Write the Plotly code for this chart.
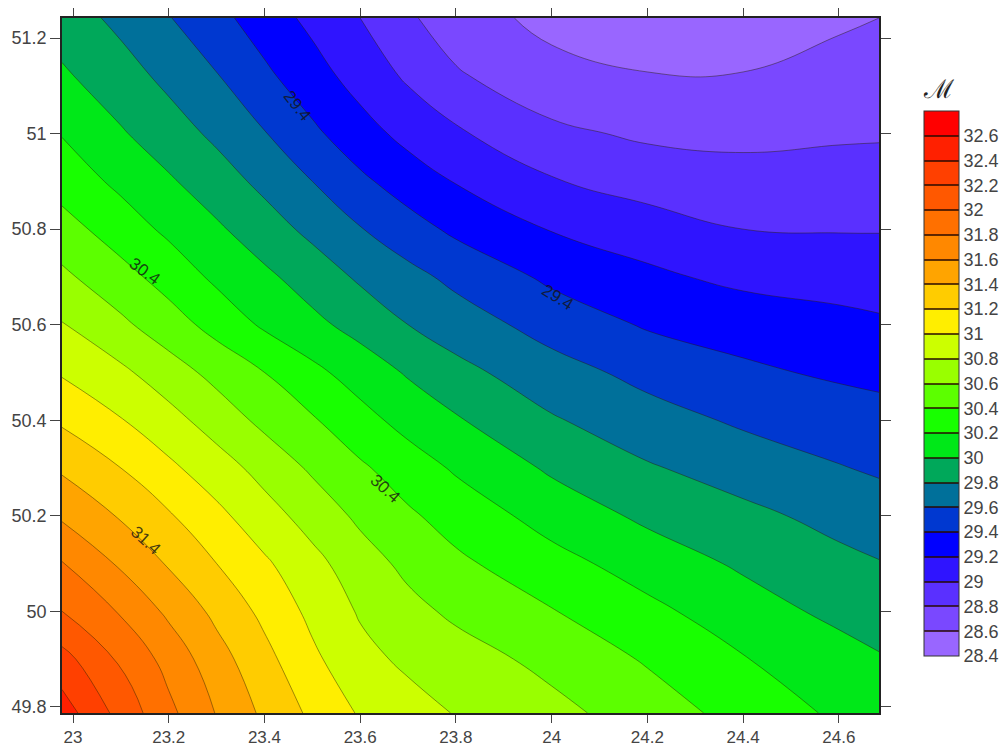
import plotly.graph_objects as go

x_nodes = [22.977, 23.1, 23.2, 23.3, 23.4, 23.5, 23.6, 23.7, 23.8, 24.0, 24.2, 24.4, 24.6, 24.684]
y_nodes = [49.787, 49.9, 50.0, 50.1, 50.2, 50.3, 50.4, 50.5, 50.6, 50.7, 50.8, 50.9, 51.0, 51.121, 51.242]

row_49_787 = [32.50, 32.13, 31.85, 31.59, 31.36, 31.16, 30.98, 30.88, 30.79, 30.66, 30.50, 30.33, 30.165, 30.10]
row_49_9 = [32.27, 31.97, 31.73, 31.48, 31.26, 31.04, 30.86, 30.76, 30.69, 30.54, 30.38, 30.21, 30.08, 30.02]
row_50_0 = [32.00, 31.78, 31.56, 31.35, 31.15, 30.95, 30.78, 30.66, 30.56, 30.41, 30.25, 30.09, 29.95, 29.89]
row_50_1 = [31.81, 31.57, 31.38, 31.20, 31.03, 30.86, 30.69, 30.55, 30.44, 30.27, 30.11, 29.97, 29.85, 29.81]
row_50_2 = [31.57, 31.38, 31.22, 31.05, 30.88, 30.72, 30.56, 30.43, 30.32, 30.12, 29.96, 29.85, 29.74, 29.69]
row_50_3 = [31.37, 31.20, 31.04, 30.89, 30.73, 30.57, 30.43, 30.30, 30.175, 29.97, 29.82, 29.71, 29.61, 29.575]
row_50_4 = [31.17, 31.01, 30.87, 30.71, 30.55, 30.42, 30.27, 30.13, 30.02, 29.82, 29.68, 29.57, 29.50, 29.47]
row_50_5 = [30.98, 30.84, 30.69, 30.54, 30.40, 30.25, 30.11, 29.98, 29.86, 29.68, 29.54, 29.435, 29.37, 29.35]
row_50_6 = [30.81, 30.64, 30.49, 30.33, 30.17, 30.05, 29.93, 29.80, 29.70, 29.52, 29.38, 29.32, 29.26, 29.23]
row_50_7 = [30.64, 30.47, 30.32, 30.16, 30.04, 29.91, 29.77, 29.66, 29.55, 29.36, 29.24, 29.15, 29.115, 29.105]
row_50_8 = [30.48, 30.30, 30.16, 30.03, 29.89, 29.75, 29.61, 29.48, 29.36, 29.19, 29.10, 29.00, 28.99, 28.99]
row_50_9 = [30.315, 30.155, 30.025, 29.89, 29.75, 29.60, 29.44, 29.305, 29.19, 29.016, 28.91, 28.876, 28.88, 28.884]
row_51_0 = [30.19, 30.02, 29.89, 29.76, 29.61, 29.44, 29.28, 29.14, 29.03, 28.84, 28.77, 28.75, 28.775, 28.78]
row_51_12 = [30.03, 29.88, 29.75, 29.61, 29.44, 29.28, 29.12, 28.97, 28.82, 28.68, 28.61, 28.61, 28.67, 28.69]
row_51_24 = [29.90, 29.75, 29.61, 29.46, 29.30, 29.15, 29.00, 28.825, 28.71, 28.53, 28.46, 28.46, 28.57, 28.60]

x_ticks = [23, 23.2, 23.4, 23.6, 23.8, 24, 24.2, 24.4, 24.6]
x_labels = ["23", "23.2", "23.4", "23.6", "23.8", "24", "24.2", "24.4", "24.6"]
y_ticks = [49.8, 50, 50.2, 50.4, 50.6, 50.8, 51, 51.2]
y_labels = ["49.8", "50", "50.2", "50.4", "50.6", "50.8", "51", "51.2"]

bar_ticks = [28.4, 28.6, 28.8, 29, 29.2, 29.4, 29.6, 29.8, 30, 30.2, 30.4, 30.6, 30.8, 31,
             31.2, 31.4, 31.6, 31.8, 32, 32.2, 32.4, 32.6]
bar_labels = ["28.4", "28.6", "28.8", "29", "29.2", "29.4", "29.6", "29.8", "30", "30.2", "30.4",
              "30.6", "30.8", "31", "31.2", "31.4", "31.6", "31.8", "32", "32.2", "32.4", "32.6"]
band_colors = ["#9966ff", "#7a48ff", "#5a30ff", "#2f14ff", "#0000ff", "#0038d0", "#00709a", "#00a85a",
               "#00e818", "#18ff00", "#5cff00", "#99ff00", "#ccff00", "#ffee00", "#ffcc00", "#ffa400",
               "#ff8800", "#ff7000", "#ff5800", "#ff4000", "#ff2000", "#ff0000"]
bar_range = [28.4, 32.8]

label_x = [23.468, 24.013, 23.150, 23.652, 23.152]
label_y = [51.059, 50.657, 50.711, 50.258, 50.148]
label_text = ["29.4", "29.4", "30.4", "30.4", "31.4"]
label_angle = [52, 32, 36, 42, 42]

z_rows = [row_49_787, row_49_9, row_50_0, row_50_1, row_50_2, row_50_3, row_50_4, row_50_5, row_50_6,
          row_50_7, row_50_8, row_50_9, row_51_0, row_51_12, row_51_24]

n = len(band_colors) + 1
fill_scale = [[0, band_colors[0]]] + [[(i + 1) / n, c] for i, c in enumerate(band_colors)] + [[1, band_colors[-1]]]
m = len(band_colors)
step_scale = []
for i, c in enumerate(band_colors):
    step_scale += [[i / m, c], [(i + 1) / m, c]]

W, H = 1003, 748
L, R, T, B = 62, 879, 18, 713
FONT = dict(family="Liberation Sans, Arial, sans-serif", size=18, color="#444444")
X_FONT = dict(family="Liberation Sans, Arial, sans-serif", size=17, color="#444444")

fig = go.Figure()
fig.add_trace(go.Contour(
    x=x_nodes, y=y_nodes, z=z_rows,
    colorscale=fill_scale, showscale=False,
    autocontour=False,
    contours=dict(start=28.4, end=32.8, size=0.2, coloring="fill", showlines=True),
    line=dict(color="rgba(40,30,0,0.45)", width=1, smoothing=1.3),
    hoverinfo="skip",
))
# Legend bar: a heatmap outside the axis ranges, carrying only the colour bar
fig.add_trace(go.Heatmap(
    x=[30, 31], y=[60, 61], z=[bar_range, bar_range],
    zmin=bar_range[0], zmax=bar_range[1], colorscale=step_scale, hoverinfo="skip",
    colorbar=dict(
        x=(924 - L) / (R - L), xanchor="left", xpad=0, ypad=0,
        y=(B - 656) / (B - T), yanchor="bottom",
        lenmode="pixels", len=545, thicknessmode="pixels", thickness=35,
        outlinecolor="#333333", outlinewidth=1, borderwidth=0,
        tickmode="array", tickvals=bar_ticks, ticktext=bar_labels,
        ticks="inside", ticklen=35, tickwidth=1.5, tickcolor="rgba(40,10,0,0.75)",
        tickfont=FONT,
    ),
))

annotations = [
    dict(x=lx, y=ly, text=t, textangle=a, showarrow=False, xref="x", yref="y",
         font=dict(family="Liberation Sans, Arial, sans-serif", size=17, color="rgba(20,20,20,0.8)"))
    for lx, ly, t, a in zip(label_x, label_y, label_text, label_angle)
]
annotations.append(dict(x=(938 - L) / (R - L), y=(B - 89) / (B - T), xref="paper", yref="paper",
                        xanchor="center", yanchor="middle",
                        text="ℳ", showarrow=False,
                        font=dict(family="DejaVu Serif, serif", size=26, color="#222222")))

axis_common = dict(showgrid=False, zeroline=False, showline=True, linecolor="#222222", linewidth=1.5,
                   ticks="outside", tickwidth=1, tickcolor="#444444", mirror="ticks")

fig.update_layout(
    width=W, height=H, margin=dict(l=L, r=W - R, t=T, b=H - B, autoexpand=False),
    paper_bgcolor="white", plot_bgcolor="white", font=FONT,
    annotations=annotations,
    xaxis=dict(range=[22.977, 24.684], tickmode="array", tickvals=x_ticks, ticktext=x_labels,
               ticklen=8, tickfont=X_FONT, **axis_common),
    yaxis=dict(range=[49.787, 51.242], tickmode="array", tickvals=y_ticks, ticktext=y_labels,
               ticklen=10, tickfont=FONT, **axis_common),
)

fig.write_html("out.html", config={"displayModeBar": False},
               post_script="document.body.style.margin='0';document.body.style.overflow='hidden';")
